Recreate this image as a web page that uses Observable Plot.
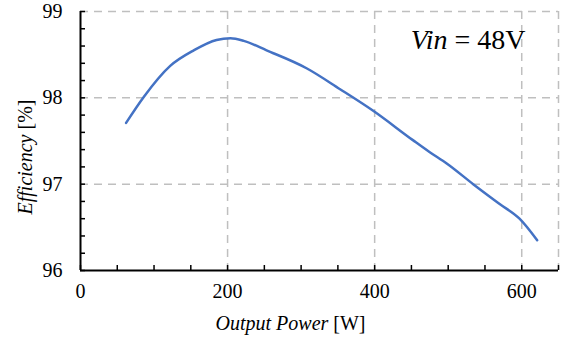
<!DOCTYPE html>
<html>
<head>
<meta charset="utf-8">
<script src="https://cdn.jsdelivr.net/npm/d3@7"></script>
<script src="https://cdn.jsdelivr.net/npm/@observablehq/plot@0.6"></script>
<style>
  html, body { margin: 0; padding: 0; background: #fff; }
  #chart svg { display: block; }
  #chart svg text, #chart svg tspan { font-family: "Liberation Serif", "Times New Roman", serif !important; }
</style>
</head>
<body>
<div id="chart"></div>
<script>
const power = [62, 86, 122, 154, 185, 204, 222, 253, 308, 353, 398, 452, 475, 498, 534, 570, 597, 621];
const efficiency = [97.71, 98.01, 98.37, 98.55, 98.67, 98.69, 98.66, 98.55, 98.34, 98.10, 97.85, 97.51, 97.37, 97.24, 97.00, 96.77, 96.60, 96.35];
const xTickLabels = [0, 200, 400, 600];
const yTickLabels = [96, 97, 98, 99];
const xMinorTicks = d3.range(0, 651, 50);
const yMinorTicks = d3.range(96, 99.001, 0.2).map(v => +v.toFixed(1));
const xGridLines = [200, 400, 600, 650];
const yGridLines = [97, 98, 99];
const annotation = "Vin = 48V";
const xLabel = "Output Power [W]";
const yLabel = "Efficiency [%]";

const data = power.map((p, i) => ({power: p, efficiency: efficiency[i]}));
const grid = {stroke: "#bfbfbf", strokeWidth: 1.5, strokeDasharray: "8,6", strokeOpacity: 1};
const serif = "Liberation Serif";

const chart = Plot.plot({
  width: 563,
  height: 339,
  marginLeft: 80,
  marginRight: 5,
  marginTop: 11,
  marginBottom: 69,
  x: {domain: [0, 650]},
  y: {domain: [96, 99]},
  style: {fontFamily: serif, fontSize: "20px", color: "#000", background: "#fff"},
  marks: [
    Plot.ruleY(yGridLines, grid),
    Plot.ruleX(xGridLines, grid),
    Plot.axisX(xMinorTicks, {tickSize: -5, strokeWidth: 1.5, tickFormat: () => "", label: null}),
    Plot.axisY(yMinorTicks, {tickSize: -5, strokeWidth: 1.5, tickFormat: () => "", label: null}),
    Plot.axisX(xTickLabels, {tickSize: 0, tickPadding: 13, label: null, fontSize: 20, tickFormat: d => String(d), fontFamily: serif}),
    Plot.axisY(yTickLabels, {tickSize: 0, tickPadding: 18, label: null, fontSize: 20, tickFormat: d => String(d), fontFamily: serif}),
    Plot.ruleX([0], {stroke: "#000", strokeWidth: 2}),
    Plot.ruleY([96], {stroke: "#000", strokeWidth: 2}),
    Plot.line(data, {x: "power", y: "efficiency", stroke: "#4472C4", strokeWidth: 2.5, curve: "monotone-x"}),
    Plot.text([annotation], {frameAnchor: "top-right", dx: -33, dy: 29, textAnchor: "end", lineAnchor: "middle", fontSize: 28, fontFamily: serif}),
    Plot.text([xLabel], {frameAnchor: "bottom", dx: -29, dy: 53, textAnchor: "middle", lineAnchor: "middle", fontSize: 20, fontFamily: serif}),
    Plot.text([yLabel], {frameAnchor: "left", dx: -55, dy: 16, rotate: -90, textAnchor: "middle", lineAnchor: "middle", fontSize: 20, fontFamily: serif})
  ]
});

// Italic variable names inside the labels
function italicize(full, italicPart) {
  d3.select(chart).selectAll("text").filter(function() { return this.textContent === full; }).each(function() {
    const t = d3.select(this);
    const rest = full.slice(italicPart.length);
    t.text(null);
    t.append("tspan").attr("font-style", "italic").text(italicPart);
    t.append("tspan").text(rest);
  });
}
italicize(annotation, "Vin");
italicize(xLabel, "Output Power");
italicize(yLabel, "Efficiency");

// Remove empty label texts of the minor-tick axes and pin the serif face on every text
d3.select(chart).selectAll("text").filter(function() { return this.textContent === ""; }).remove();
d3.select(chart).selectAll("text, tspan").attr("font-family", serif);

document.getElementById("chart").append(chart);
</script>
</body>
</html>
